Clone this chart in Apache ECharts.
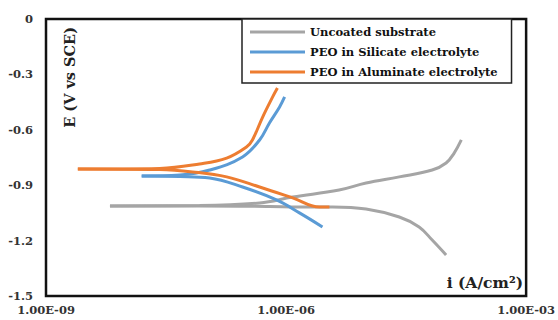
<!DOCTYPE html>
<html>
<head>
<meta charset="utf-8">
<script src="https://cdn.jsdelivr.net/npm/echarts@6/dist/echarts.min.js"></script>
<style>html,body{margin:0;padding:0;background:#fff}#c{width:558px;height:320px}</style>
</head>
<body>
<div id="c"></div>
<script>
// Series names
const seriesNames = ['Uncoated substrate', 'PEO in Silicate electrolyte', 'PEO in Aluminate electrolyte'];

// Uncoated substrate: cathodic branch (from far end to Ecorr) and anodic branch (from Ecorr outward)
const uncoatedCathI = [1.0e-4, 6.7e-5, 4.6e-5, 2.6e-5, 1.0e-5, 3.8e-6, 1.47e-6, 6.2e-7, 8.3e-8, 6.3e-9];
const uncoatedCathE = [-1.278, -1.197, -1.126, -1.072, -1.029, -1.018, -1.018, -1.015, -1.012, -1.012];
const uncoatedAnodI = [6.3e-9, 8.3e-8, 4.67e-7, 1.21e-6, 4.6e-6, 1.0e-5, 2.6e-5, 6.7e-5, 1.0e-4, 1.26e-4, 1.55e-4];
const uncoatedAnodE = [-1.012, -1.010, -0.996, -0.964, -0.926, -0.888, -0.855, -0.818, -0.780, -0.726, -0.655];

// PEO in Silicate electrolyte
const silicateCathI = [2.85e-6, 1.47e-6, 7.6e-7, 2.86e-7, 1.11e-7, 4.7e-8, 1.57e-8];
const silicateCathE = [-1.126, -1.050, -0.980, -0.910, -0.861, -0.853, -0.850];
const silicateAnodI = [1.57e-8, 4.7e-8, 1.11e-7, 2.86e-7, 4.67e-7, 6.2e-7, 8.3e-7, 9.6e-7];
const silicateAnodE = [-0.850, -0.845, -0.818, -0.747, -0.655, -0.563, -0.476, -0.422];

// PEO in Aluminate electrolyte
const aluminateCathI = [3.48e-6, 2.62e-6, 1.21e-6, 4.67e-7, 1.81e-7, 6.8e-8, 2.64e-8, 2.5e-9];
const aluminateCathE = [-1.018, -1.018, -0.969, -0.910, -0.855, -0.828, -0.815, -0.812];
const aluminateAnodI = [2.5e-9, 2.64e-8, 8.3e-8, 1.81e-7, 3.2e-7, 3.8e-7, 5.1e-7, 6.8e-7, 7.8e-7];
const aluminateAnodE = [-0.812, -0.809, -0.785, -0.753, -0.693, -0.655, -0.531, -0.422, -0.374];

// Tick labels
const xTickExps = [-9, -6, -3];
const xTickLabels = ['1.00E-09', '1.00E-06', '1.00E-03'];
const yTickValues = [-1.5, -1.2, -0.9, -0.6, -0.3, 0];
const yTickLabels = ['-1.5', '-1.2', '-0.9', '-0.6', '-0.3', '0'];

const xTitle = 'i (A/cm\u00B2)';
const yTitle = 'E (V vs SCE)';

const colors = ['#a5a5a5', '#5b9bd5', '#ed7d31'];
const zip = (xs, ys) => xs.map((x, k) => [x, ys[k]]);

function branch(name, color, xs, ys) {
  return {
    name: name, type: 'line', data: zip(xs, ys), smooth: 0.4,
    showSymbol: false, symbol: 'none', color: color,
    lineStyle: { width: 3, color: color }, animation: false
  };
}

const serif = '"DejaVu Serif", "Liberation Serif", serif';
const chart = echarts.init(document.getElementById('c'), null, { renderer: 'svg' });
chart.setOption({
  animation: false,
  grid: { left: 46, top: 19, right: 31, bottom: 24, show: true, borderColor: '#111', borderWidth: 2.5, backgroundColor: 'transparent' },
  legend: {
    data: seriesNames, orient: 'vertical', left: 242, top: 19,
    icon: 'rect', itemWidth: 55, itemHeight: 3, itemGap: 8,
    padding: [7, 14, 5, 8], borderColor: '#222', borderWidth: 1.5, backgroundColor: '#fff',
    textStyle: { fontFamily: serif, fontWeight: 'bold', fontSize: 11.5, color: '#111' }
  },
  xAxis: {
    type: 'log', logBase: 10, min: 1e-9, max: 1e-3, interval: 3,
    splitLine: { show: false }, axisTick: { show: false }, axisLine: { show: false },
    axisLabel: {
      margin: 8, showMinLabel: true, showMaxLabel: true,
      fontFamily: serif, fontWeight: 'bold', fontSize: 11.5, color: '#333',
      formatter: function (v) { const e = Math.round(Math.log10(v)); const k = xTickExps.indexOf(e); return k >= 0 ? xTickLabels[k] : ''; }
    }
  },
  yAxis: {
    type: 'value', min: -1.5, max: 0, interval: 0.3,
    splitLine: { show: false }, axisTick: { show: false }, axisLine: { show: false },
    axisLabel: {
      margin: 13, fontFamily: serif, fontWeight: 'bold', fontSize: 11.5, color: '#333',
      formatter: function (v) { let best = 0; yTickValues.forEach((t, k) => { if (Math.abs(t - v) < Math.abs(yTickValues[best] - v)) best = k; }); return yTickLabels[best]; }
    }
  },
  graphic: [
    { type: 'text', left: 62, top: 27, rotation: Math.PI / 2, style: { text: yTitle, fontFamily: serif, fontWeight: 'bold', fontSize: 14.5, fill: '#222' } },
    { type: 'text', right: 35, top: 274, style: { text: xTitle, fontFamily: serif, fontWeight: 'bold', fontSize: 15.5, fill: '#222' } }
  ],
  series: [
    branch(seriesNames[0], colors[0], uncoatedCathI, uncoatedCathE),
    branch(seriesNames[0], colors[0], uncoatedAnodI, uncoatedAnodE),
    branch(seriesNames[1], colors[1], silicateCathI, silicateCathE),
    branch(seriesNames[1], colors[1], silicateAnodI, silicateAnodE),
    branch(seriesNames[2], colors[2], aluminateCathI, aluminateCathE),
    branch(seriesNames[2], colors[2], aluminateAnodI, aluminateAnodE)
  ]
});
</script>
</body>
</html>
